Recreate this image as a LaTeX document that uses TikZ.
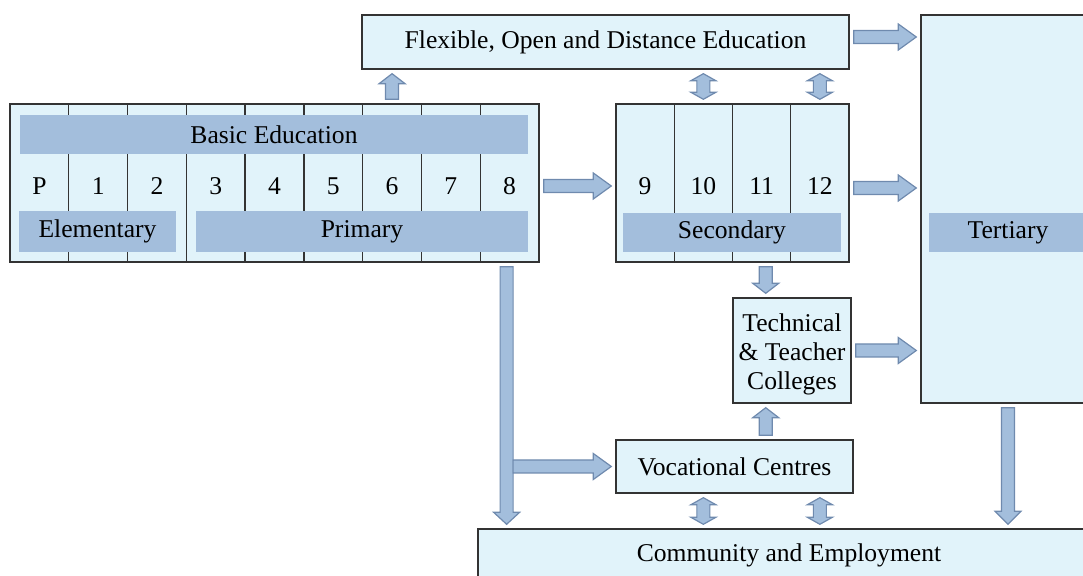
\documentclass[tikz,border=0pt]{standalone}
\usepackage{fontspec}
\setmainfont{Liberation Serif}
\usetikzlibrary{calc}

\definecolor{boxfill}{HTML}{E1F3FA}
\definecolor{bandfill}{HTML}{A3BEDC}
\definecolor{arrline}{HTML}{6F8AAE}
\definecolor{boxline}{HTML}{333333}

\tikzset{
  box/.style={draw=boxline, line width=0.7pt, fill=boxfill, inner sep=0pt},
  cell/.style={draw=boxline, line width=0.7pt, minimum width=29.39pt, minimum height=79pt, inner sep=0pt},
  band/.style={fill=bandfill, inner sep=0pt, minimum height=19.5pt},
  blockarr/.style={draw=arrline, fill=bandfill, line width=0.6pt}
}

% block arrow from #2 to #3, #1 = head length
\newcommand{\blockarrow}[3][9pt]{%
  \path[blockarr] let \p1=($(#2)!2pt!(#3)$), \p2=($(#3)!2pt!(#2)$),
    \n1={atan2(\y2-\y1,\x2-\x1)}, \n2={veclen(\x2-\x1,\y2-\y1)} in
    [shift={(\p1)}, rotate=\n1]
    (0pt,3.25pt) -- ({\n2*1pt-#1},3.25pt) -- ({\n2*1pt-#1},6.5pt) -- ({\n2*1pt},0pt)
    -- ({\n2*1pt-#1},-6.5pt) -- ({\n2*1pt-#1},-3.25pt) -- (0pt,-3.25pt) -- cycle;}
% double headed block arrow
\newcommand{\dblarrow}[2]{%
  \path[blockarr] let \p1=($(#1)!2pt!(#2)$), \p2=($(#2)!2pt!(#1)$),
    \n1={atan2(\y2-\y1,\x2-\x1)}, \n2={veclen(\x2-\x1,\y2-\y1)} in
    [shift={(\p1)}, rotate=\n1]
    (0pt,0pt) -- (3.5pt,6.25pt) -- (3.5pt,3.25pt) -- ({\n2*1pt-3.5pt},3.25pt)
    -- ({\n2*1pt-3.5pt},6.25pt) -- ({\n2*1pt},0pt) -- ({\n2*1pt-3.5pt},-6.25pt)
    -- ({\n2*1pt-3.5pt},-3.25pt) -- (3.5pt,-3.25pt) -- (3.5pt,-6.25pt) -- cycle;}

\begin{document}
\begin{tikzpicture}[x=0.5pt, y=-0.5pt, font=\fontsize{12.8}{14.5}\selectfont]
    \useasboundingbox (0,0) rectangle (1083,576);
    \clip (0,0) rectangle (1083,576);

    % boxes
    \node (fode) at (605.5,42) [box, minimum width=243.5pt, minimum height=27pt] {Flexible, Open and Distance Education};
    \node (basic) at (274.5,183) [box, minimum width=264.5pt, minimum height=79pt] {};
    \node (sec) at (732.5,183) [box, minimum width=116.5pt, minimum height=79pt] {};
    \node (tert) at (1008,209) [box, minimum width=87pt, minimum height=194pt] {};
    \node (tech) at (792,350.5) [box, minimum width=59pt, minimum height=52.5pt, align=center] {\rule{0pt}{13pt}Technical\\\& Teacher\\Colleges};
    \node (voc) at (734.5,466.5) [box, minimum width=118.5pt, minimum height=26.5pt] {Vocational Centres};
    \node (comm) at (789,555) [box, minimum width=311pt, minimum height=26pt] {Community and Employment};

    % grades
    \foreach \g [count=\i] in {P,1,2,3,4,5,6,7,8} {
        \node (c\i) at ({10+58.78*(\i-0.5)},183) [cell] {};
        \node (g\i) at (c\i) [yshift=-1.5pt] {\g};
    }
    \foreach \g [count=\i] in {9,10,11,12} {
        \node (s\i) at ({616+58.25*(\i-0.5)},183) [cell, minimum width=29.125pt] {};
        \node (h\i) at (s\i) [yshift=-1.5pt] {\g};
    }

    % bands
    \node (be) at (274,134.5) [band, minimum width=254pt] {Basic Education};
    \node (el) at (97.5,231.5) [band, minimum width=78.5pt, minimum height=20.5pt] {Elementary};
    \node (pr) at (362,231.5) [band, minimum width=166pt, minimum height=20.5pt] {Primary};
    \node (se) at (732,232.5) [band, minimum width=109pt] {Secondary};
    \node (te) at (1008,232.5) [band, minimum width=79pt] {Tertiary};

    \coordinate (tlink) at ($(tech.south west)!0.28!(tech.south east)$);
    \coordinate (down) at ([xshift=-1.5pt]c9.south);
    \coordinate (branch) at ($(down |- voc.west)+(2.5,0)$);
    \coordinate (b2s) at ([yshift=-1.5pt]basic.east);
    \coordinate (f2t) at ([yshift=2.5pt]fode.east);
    \coordinate (s2t) at ([yshift=-2.5pt]sec.east);

    % arrows
    \blockarrow{b2s}{b2s -| sec.west}
    \blockarrow{f2t}{f2t -| tert.west}
    \blockarrow{s2t}{s2t -| tert.west}
    \blockarrow{tech.east}{tech.east -| tert.west}
    \blockarrow[5pt]{c7.north}{c7.north |- fode.south}
    \dblarrow{s2.north |- fode.south}{s2.north}
    \dblarrow{s4.north |- fode.south}{s4.north}
    \blockarrow[5pt]{tlink |- sec.south}{tlink |- tech.north}
    \blockarrow[5pt]{tlink |- voc.north}{tlink |- tech.south}
    \blockarrow[6pt]{down}{down |- comm.north}
    \blockarrow{branch}{voc.west}
    \dblarrow{s2.south |- voc.south}{s2.south |- comm.north}
    \dblarrow{s4.south |- voc.south}{s4.south |- comm.north}
    \blockarrow[6.5pt]{tert.south}{tert.south |- comm.north}
\end{tikzpicture}
\end{document}
